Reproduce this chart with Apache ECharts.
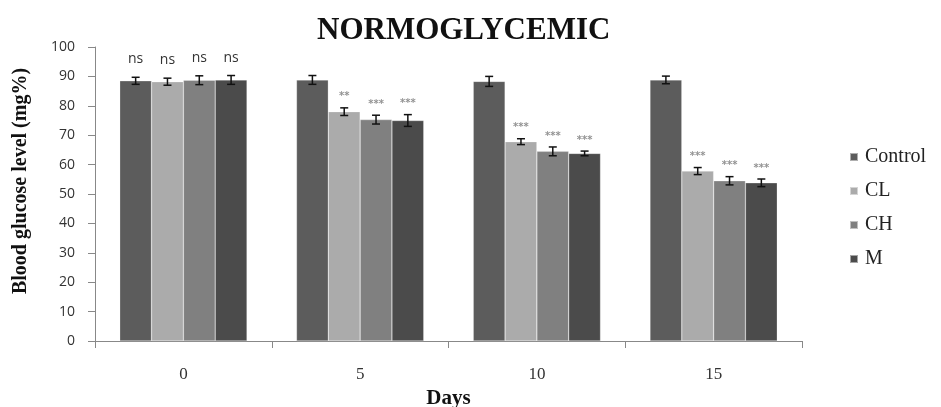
<!DOCTYPE html>
<html><head><meta charset="utf-8">
<script src="https://cdn.jsdelivr.net/npm/echarts@6/dist/echarts.min.js"></script>
<style>html,body{margin:0;padding:0;background:#fff}#c{width:941px;height:407px}</style>
</head><body><div id="c"></div>
<script>
var categories = ['0', '5', '10', '15'];
var seriesNames = ['Control', 'CL', 'CH', 'M'];
var control = [88.5, 88.8, 88.3, 88.8];
var cl = [88.2, 78.0, 67.8, 57.8];
var ch = [88.7, 75.3, 64.5, 54.5];
var m = [88.8, 75.0, 63.8, 53.8];
var controlErr = [1.2, 1.5, 1.7, 1.3];
var clErr = [1.2, 1.3, 1.0, 1.2];
var chErr = [1.5, 1.5, 1.5, 1.4];
var mErr = [1.5, 2.0, 0.8, 1.3];
var controlSig = ['ns', '', '', ''];
var clSig = ['ns', '**', '***', '***'];
var chSig = ['ns', '***', '***', '***'];
var mSig = ['ns', '***', '***', '***'];

var colors = ['#5c5c5c', '#ababab', '#808080', '#4b4b4b'];
var vals = [control, cl, ch, m];
var errs = [controlErr, clErr, chErr, mErr];
var sigs = [controlSig, clSig, chSig, mSig];
var catGap = 0.28;

var series = [];
vals.forEach(function (v, i) {
  series.push({
    name: seriesNames[i], type: 'bar', data: v, barGap: '0%', barCategoryGap: (catGap * 100) + '%',
    itemStyle: { color: colors[i], borderColor: 'rgba(255,255,255,0.5)', borderWidth: 0.5 }
  });
});
vals.forEach(function (v, i) {
  var data = v.map(function (val, k) { return [k, val, errs[i][k], sigs[i][k]]; });
  series.push({
    type: 'custom', z: 10, silent: true, data: data,
    renderItem: function (params, api) {
      var k = api.value(0), val = api.value(1), e = api.value(2);
      var sig = data[params.dataIndex][3];
      var c = api.coord([k, val]);
      var band = api.size([1, 0])[0];
      var gw = band * (1 - catGap), bw = gw / 4;
      var x = c[0] - gw / 2 + bw * (i + 0.5);
      var yt = api.coord([k, val + e])[1], yb = api.coord([k, val - e])[1];
      var cap = 4;
      var st = { stroke: '#111', lineWidth: 1.5 };
      var children = [
        { type: 'line', shape: { x1: x, y1: yt, x2: x, y2: yb }, style: st },
        { type: 'line', shape: { x1: x - cap, y1: yt, x2: x + cap, y2: yt }, style: st },
        { type: 'line', shape: { x1: x - cap, y1: yb, x2: x + cap, y2: yb }, style: st }
      ];
      if (sig) {
        var isNs = sig === 'ns';
        children.push({
          type: 'text',
          style: {
            text: sig, x: x, y: isNs ? yt - 11 : yt - 6, align: 'center', verticalAlign: 'bottom',
            fill: isNs ? '#333' : '#939393', font: isNs ? '14px "Open Sans", sans-serif' : 'bold 10px "DejaVu Sans", sans-serif'
          }
        });
      }
      return { type: 'group', children: children };
    }
  });
});

var chart = echarts.init(document.getElementById('c'));
chart.setOption({
  animation: false,
  backgroundColor: '#fff',
  title: {
    text: 'NORMOGLYCEMIC', left: 312, top: 10,
    textStyle: { fontFamily: 'Liberation Serif', fontWeight: 'bold', fontSize: 31, color: '#111' }
  },
  legend: {
    data: seriesNames, orient: 'vertical', left: 844, top: 142, itemGap: 14,
    itemWidth: 8, itemHeight: 8, icon: 'rect',
    textStyle: { fontFamily: 'Liberation Serif', fontSize: 20, color: '#222', padding: [0, 0, 0, 2] }
  },
  grid: { left: 95, right: 139, top: 47, bottom: 66, outerBoundsMode: 'none', containLabel: false },
  xAxis: {
    type: 'category', data: categories,
    name: 'Days', nameLocation: 'middle', nameGap: 46,
    nameTextStyle: { fontFamily: 'Liberation Serif', fontWeight: 'bold', fontSize: 21, color: '#111' },
    axisLine: { lineStyle: { color: '#888' } },
    axisTick: { show: true, length: 7, lineStyle: { color: '#888' } },
    axisLabel: { margin: 25, fontFamily: 'Liberation Serif', fontSize: 17, color: '#333' }
  },
  yAxis: {
    type: 'value', min: 0, max: 100, interval: 10,
    name: 'Blood glucose level (mg%)', nameLocation: 'middle', nameGap: 64,
    nameTextStyle: { fontFamily: 'Liberation Serif', fontWeight: 'bold', fontSize: 20, color: '#111', padding: [0, 0, 0, 26] },
    axisLine: { show: true, lineStyle: { color: '#888' } },
    axisTick: { show: true, length: 7, lineStyle: { color: '#888' } },
    splitLine: { show: false },
    axisLabel: { margin: 20, fontFamily: '"Open Sans", sans-serif', fontSize: 14, color: '#333' }
  },
  series: series
});
</script></body></html>
